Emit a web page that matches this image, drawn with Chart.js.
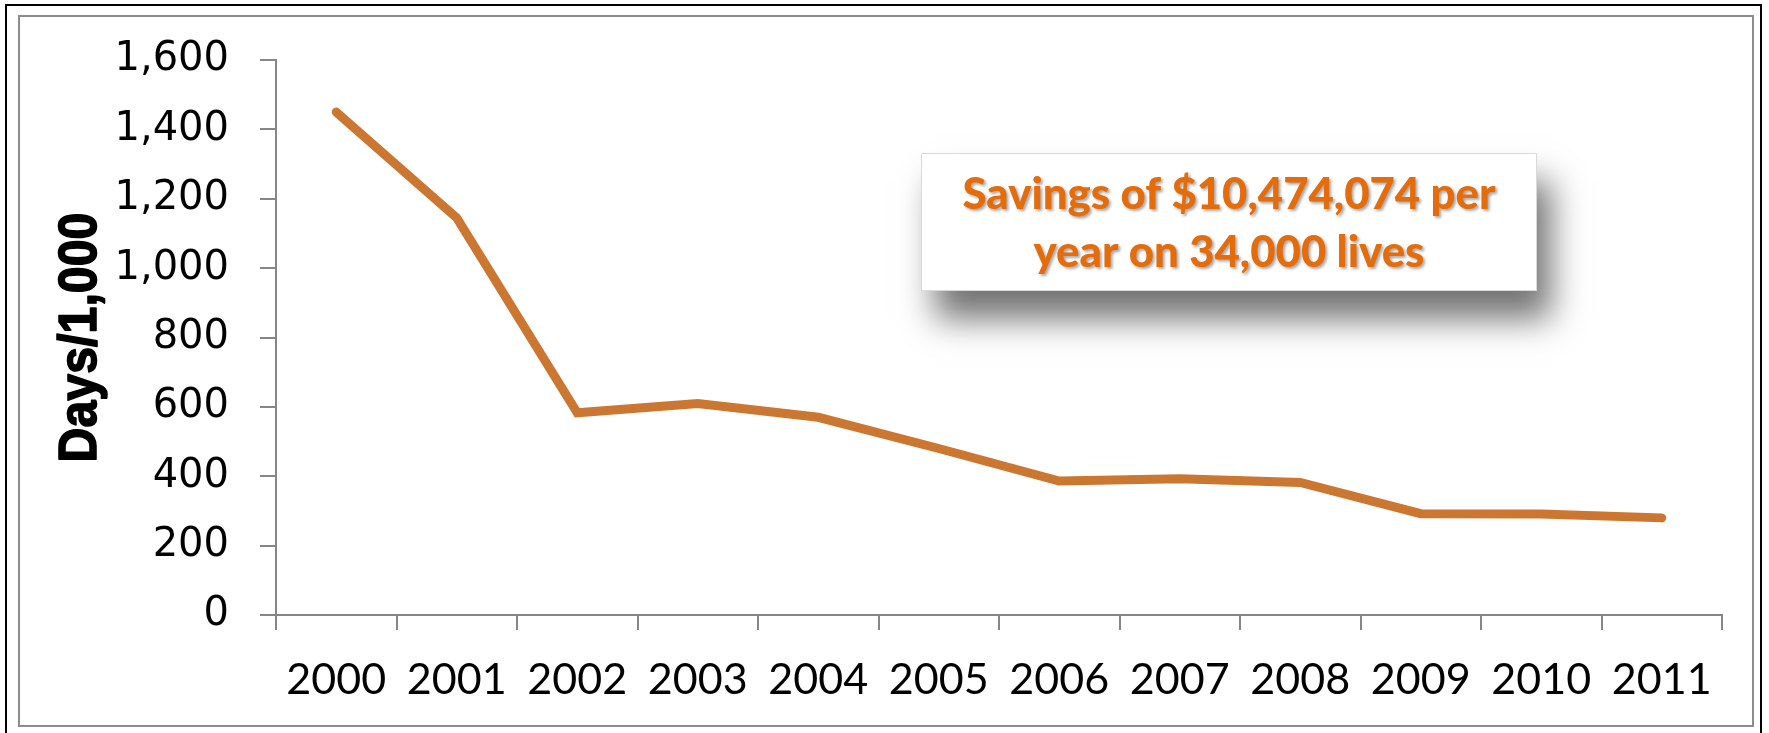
<!DOCTYPE html>
<html>
<head>
<meta charset="utf-8">
<script src="https://cdn.jsdelivr.net/npm/chart.js@4.4.1/dist/chart.umd.min.js"></script>
<style>
  html, body { margin: 0; padding: 0; background: #fff; }
  #wrap { width: 1769px; height: 733px; position: relative; }
</style>
</head>
<body>
<div id="wrap"><canvas id="chart"></canvas></div>
<script>
const years = ['2000', '2001', '2002', '2003', '2004', '2005', '2006', '2007', '2008', '2009', '2010', '2011'];
const daysPer1000 = [1450, 1145, 583, 610, 570, 480, 386, 393, 382, 292, 291, 280];
const yTicks = [0, 200, 400, 600, 800, 1000, 1200, 1400, 1600];
const yTitle = 'Days/1,000';
const noteLines = ['Savings of $10,474,074 per', 'year on 34,000 lives'];

const AXIS_GREY = '#868686';

// frame, condensed axis title and callout box drawn straight on the canvas
const decorations = {
  id: 'decorations',
  afterDraw(chart) {
    const ctx = chart.ctx;
    const area = chart.chartArea;
    ctx.save();

    // double frame
    ctx.lineWidth = 2;
    ctx.strokeStyle = '#8c8c8c';
    ctx.strokeRect(19, 16, 1734, 710);
    ctx.strokeStyle = '#000';
    ctx.strokeRect(6, 5, 1755, 740);

    // y title: heavy narrow face, squeezed like the original
    ctx.save();
    ctx.translate(81, (area.top + area.bottom) / 2);
    ctx.rotate(-Math.PI / 2);
    ctx.font = 'bold 54px "Liberation Sans Narrow", "Liberation Sans", Arial, sans-serif';
    const tw = ctx.measureText(yTitle).width;
    ctx.scale(Math.min(1, 250 / tw), 1);
    ctx.textAlign = 'center';
    ctx.textBaseline = 'middle';
    ctx.fillStyle = '#000';
    ctx.strokeStyle = '#000';
    ctx.lineWidth = 1.6;
    ctx.lineJoin = 'round';
    ctx.fillText(yTitle, 0, 0);
    ctx.strokeText(yTitle, 0, 0);
    ctx.restore();

    // callout box with soft shadow
    const bx = 921, by = 153, bw = 616, bh = 138;
    ctx.shadowColor = 'rgba(0,0,0,0.55)';
    ctx.shadowBlur = 32;
    ctx.shadowOffsetX = 14;
    ctx.shadowOffsetY = 28;
    ctx.fillStyle = '#fff';
    ctx.fillRect(bx, by, bw, bh);
    ctx.shadowColor = 'transparent';
    ctx.lineWidth = 1;
    ctx.strokeStyle = '#d9d9d9';
    ctx.strokeRect(bx + 0.5, by + 0.5, bw - 1, bh - 1);

    // callout text, sized to the box like the original
    let size = 48;
    ctx.font = `900 ${size}px Lato, "Open Sans", sans-serif`;
    const w = ctx.measureText(noteLines[0]).width;
    size = Math.min(size, size * 533 / w);
    ctx.font = `900 ${size}px Lato, "Open Sans", sans-serif`;
    ctx.textAlign = 'center';
    ctx.textBaseline = 'middle';
    ctx.fillStyle = '#e46c0a';
    ctx.shadowColor = 'rgba(0,0,0,0.35)';
    ctx.shadowBlur = 3;
    ctx.shadowOffsetX = 2;
    ctx.shadowOffsetY = 2;
    ctx.fillText(noteLines[0], bx + bw / 2, 195);
    ctx.fillText(noteLines[1], bx + bw / 2, 253);

    ctx.restore();
  }
};

new Chart(document.getElementById('chart'), {
  type: 'line',
  data: {
    labels: years,
    datasets: [{
      data: daysPer1000,
      borderColor: '#cb7732',
      borderWidth: 9,
      borderCapStyle: 'round',
      borderJoinStyle: 'miter',
      pointRadius: 0,
      tension: 0,
    }]
  },
  options: {
    responsive: true, maintainAspectRatio: false,
    animation: false,
    layout: { padding: { top: 60, right: 47, bottom: 0, left: 0 } },
    plugins: { legend: { display: false }, tooltip: { enabled: false } },
    scales: {
      x: {
        offset: true,
        grid: { offset: true, drawOnChartArea: false, tickLength: 15, color: AXIS_GREY, lineWidth: 2 },
        border: { color: AXIS_GREY, width: 2 },
        ticks: { color: '#000', padding: 24, maxRotation: 0, autoSkip: false, font: { family: 'Lato, "Open Sans", sans-serif', size: 43 } },
        afterFit: s => { s.height = 118; }
      },
      y: {
        min: 0, max: 1600,
        afterBuildTicks: s => { s.ticks = yTicks.map(v => ({ value: v })); },
        grid: { drawOnChartArea: false, tickLength: 16, color: AXIS_GREY, lineWidth: 2 },
        border: { color: AXIS_GREY, width: 2 },
        ticks: {
          color: '#000', padding: 31,
          font: { family: '"DejaVu Sans", sans-serif', size: 40 },
          callback: v => v.toLocaleString('en-US')
        },
        afterFit: s => { s.width = 276; }
      }
    }
  },
  plugins: [decorations]
});
</script>
</body>
</html>
